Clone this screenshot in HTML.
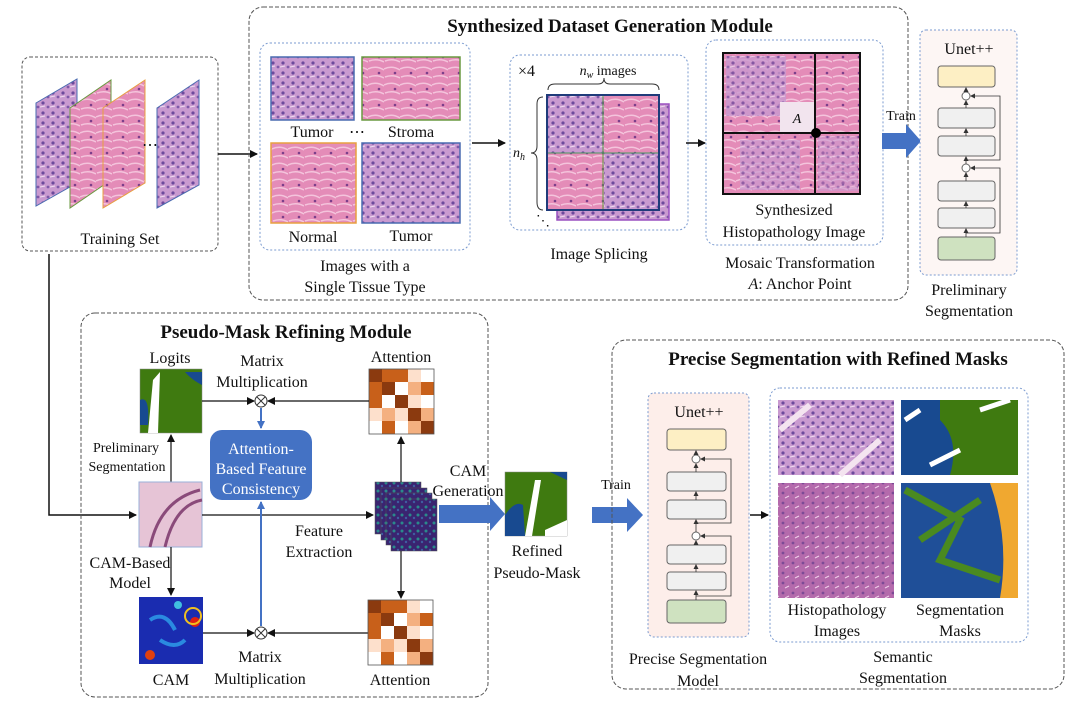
<!DOCTYPE html>
<html><head><meta charset="utf-8"><style>
html,body{margin:0;padding:0;background:#fff}
svg{display:block}
text{font-family:"Liberation Serif",serif;fill:#111}
.t{font-size:16px}
.s{font-size:14px}
.b{font-size:19px;font-weight:bold}
</style></head><body>
<svg width="1080" height="707" viewBox="0 0 1080 707" xmlns="http://www.w3.org/2000/svg">
<defs>
<pattern id="he" width="10" height="10" patternUnits="userSpaceOnUse">
<rect width="10" height="10" fill="#c99ad0"/>
<circle cx="3" cy="3" r="1.6" fill="#6d4a9c"/><circle cx="8" cy="7" r="1.4" fill="#7e58a8"/>
<path d="M0 7 L5 6" stroke="#efdcef" stroke-width="1"/>
</pattern>
<pattern id="st" width="16" height="16" patternUnits="userSpaceOnUse">
<rect width="16" height="16" fill="#e48cb8"/>
<path d="M0 5 Q8 1 16 6 M1 13 Q9 10 16 14" stroke="#f4c4dc" stroke-width="1.5" fill="none"/>
<circle cx="11" cy="9" r="1.3" fill="#7b3f8a"/>
</pattern>
<pattern id="big" width="10" height="10" patternUnits="userSpaceOnUse">
<rect width="10" height="10" fill="#b46aac"/><circle cx="3" cy="3" r="1.4" fill="#7c4a96"/><path d="M5 8 L9 6" stroke="#f0d0ea" stroke-width="1"/>
</pattern>
<pattern id="fm" width="8" height="8" patternUnits="userSpaceOnUse">
<rect width="8" height="8" fill="#3a2470"/><circle cx="2" cy="3" r="1.5" fill="#2a8a8c"/><circle cx="6" cy="6" r="1.2" fill="#3f5ea0"/>
</pattern>
<marker id="ar" markerWidth="8" markerHeight="8" refX="7" refY="4" orient="auto" markerUnits="userSpaceOnUse"><path d="M0 0 L8 4 L0 8 z" fill="#111"/></marker>
<marker id="arb" markerWidth="8" markerHeight="8" refX="7" refY="4" orient="auto" markerUnits="userSpaceOnUse"><path d="M0 0 L8 4 L0 8 z" fill="#4472c4"/></marker>
<marker id="as" markerWidth="5" markerHeight="5" refX="4" refY="2.5" orient="auto" markerUnits="userSpaceOnUse"><path d="M0 0 L5 2.5 L0 5 z" fill="#333"/></marker>
<g id="att">
<rect x="0" y="0" width="13" height="13" fill="#8b3a0f"/><rect x="13" y="0" width="13" height="13" fill="#c8601a"/><rect x="26" y="0" width="13" height="13" fill="#c8601a"/><rect x="39" y="0" width="13" height="13" fill="#fde0cc"/><rect x="52" y="0" width="13" height="13" fill="#fff"/>
<rect x="0" y="13" width="13" height="13" fill="#c8601a"/><rect x="13" y="13" width="13" height="13" fill="#8b3a0f"/><rect x="26" y="13" width="13" height="13" fill="#fff"/><rect x="39" y="13" width="13" height="13" fill="#f4b080"/><rect x="52" y="13" width="13" height="13" fill="#c8601a"/>
<rect x="0" y="26" width="13" height="13" fill="#c8601a"/><rect x="13" y="26" width="13" height="13" fill="#fff"/><rect x="26" y="26" width="13" height="13" fill="#8b3a0f"/><rect x="39" y="26" width="13" height="13" fill="#fde0cc"/><rect x="52" y="26" width="13" height="13" fill="#fff"/>
<rect x="0" y="39" width="13" height="13" fill="#fde0cc"/><rect x="13" y="39" width="13" height="13" fill="#f4b080"/><rect x="26" y="39" width="13" height="13" fill="#fde0cc"/><rect x="39" y="39" width="13" height="13" fill="#8b3a0f"/><rect x="52" y="39" width="13" height="13" fill="#f4b080"/>
<rect x="0" y="52" width="13" height="13" fill="#fff"/><rect x="13" y="52" width="13" height="13" fill="#c8601a"/><rect x="26" y="52" width="13" height="13" fill="#fff"/><rect x="39" y="52" width="13" height="13" fill="#f4b080"/><rect x="52" y="52" width="13" height="13" fill="#8b3a0f"/>
<rect x="0" y="0" width="65" height="65" fill="none" stroke="#555" stroke-width="0.8"/>
</g>
</defs>

<!-- Training set -->
<rect x="22" y="57" width="196" height="194" rx="8" fill="none" stroke="#555" stroke-dasharray="3,2"/>
<polygon points="36,103 77,79 77,183 36,206" fill="url(#he)" stroke="#4a6bb0"/>
<polygon points="70,108 111,80 111,180 70,208" fill="url(#st)" stroke="#6a9a40"/>
<polygon points="103,108 145,80 145,183 103,208" fill="url(#st)" stroke="#e8a040"/>
<text x="142" y="150" class="t">⋯</text>
<polygon points="157,108 199,80 199,185 157,208" fill="url(#he)" stroke="#4a6bb0"/>
<text x="120" y="244" class="t" text-anchor="middle">Training Set</text>
<line x1="218" y1="154" x2="257" y2="154" stroke="#111" stroke-width="1.5" marker-end="url(#ar)"/>
<polyline points="49,254 49,515 136,515" fill="none" stroke="#111" stroke-width="1.5" marker-end="url(#ar)"/>

<!-- Synth module -->
<rect x="249" y="7" width="659" height="293" rx="14" fill="none" stroke="#555" stroke-dasharray="4,2"/>
<text x="610" y="32" class="b" text-anchor="middle">Synthesized Dataset Generation Module</text>
<rect x="260" y="43" width="210" height="207" rx="10" fill="none" stroke="#7b9bd0" stroke-dasharray="2,2"/>
<rect x="271" y="57" width="83" height="63" fill="url(#he)" stroke="#4a6bb0" stroke-width="1.5"/>
<rect x="362" y="57" width="98" height="63" fill="url(#st)" stroke="#6a9a40" stroke-width="1.5"/>
<rect x="271" y="143" width="85" height="80" fill="url(#st)" stroke="#e8a040" stroke-width="1.5"/>
<rect x="362" y="143" width="98" height="80" fill="url(#he)" stroke="#4a6bb0" stroke-width="1.5"/>
<text x="312" y="137" class="t" text-anchor="middle">Tumor</text>
<text x="357" y="137" class="t" text-anchor="middle">⋯</text>
<text x="411" y="137" class="t" text-anchor="middle">Stroma</text>
<text x="313" y="242" class="t" text-anchor="middle">Normal</text>
<text x="411" y="241" class="t" text-anchor="middle">Tumor</text>
<text x="365" y="271" class="t" text-anchor="middle">Images with a</text>
<text x="365" y="292" class="t" text-anchor="middle">Single Tissue Type</text>
<line x1="472" y1="143" x2="505" y2="143" stroke="#111" stroke-width="1.5" marker-end="url(#ar)"/>

<rect x="510" y="55" width="178" height="175" rx="10" fill="none" stroke="#7b9bd0" stroke-dasharray="2,2"/>
<text x="518" y="76" class="t">×4</text>
<text x="608" y="75" class="s" text-anchor="middle"><tspan font-style="italic">n</tspan><tspan font-size="10" font-style="italic" dy="3">w</tspan><tspan dy="-3"> images</tspan></text>
<path d="M548 90 Q548 84 555 84 L598 84 Q604 84 604 78 Q604 84 610 84 L652 84 Q659 84 659 90" fill="none" stroke="#333"/>
<path d="M543 97 Q537 97 537 104 L537 146 Q537 153 531 153 Q537 153 537 160 L537 202 Q537 210 543 210" fill="none" stroke="#333"/>
<text x="513" y="157" class="s" font-style="italic">n<tspan font-size="10" dy="3">h</tspan></text>
<text x="536" y="225" class="s">⋱</text>
<rect x="557" y="104" width="112" height="116" fill="url(#he)" stroke="#9a50c0" stroke-width="1.5"/>
<rect x="547" y="95" width="112" height="115" fill="url(#he)" stroke="#1f3b7a" stroke-width="2"/>
<rect x="604" y="95" width="55" height="58" fill="url(#st)"/>
<rect x="548" y="153" width="56" height="56" fill="url(#st)"/>
<line x1="603" y1="95" x2="603" y2="210" stroke="#5a9a40" stroke-width="1"/>
<line x1="547" y1="153" x2="659" y2="153" stroke="#4a9a60" stroke-width="1"/>
<rect x="547" y="95" width="112" height="115" fill="none" stroke="#1f3b7a" stroke-width="2"/>
<text x="599" y="259" class="t" text-anchor="middle">Image Splicing</text>
<line x1="686" y1="143" x2="705" y2="143" stroke="#111" stroke-width="1.5" marker-end="url(#ar)"/>

<rect x="706" y="40" width="177" height="205" rx="10" fill="none" stroke="#7b9bd0" stroke-dasharray="2,2"/>
<rect x="723" y="53" width="137" height="141" fill="url(#st)" stroke="#111" stroke-width="2"/>
<rect x="726" y="56" width="60" height="60" fill="url(#he)" opacity="0.8"/>
<rect x="740" y="140" width="60" height="50" fill="url(#he)" opacity="0.7"/>
<rect x="818" y="136" width="40" height="55" fill="url(#he)" opacity="0.6"/>
<rect x="780" y="102" width="35" height="30" fill="#f2e4ee"/>
<line x1="815" y1="53" x2="815" y2="194" stroke="#111" stroke-width="2"/>
<line x1="723" y1="133" x2="860" y2="133" stroke="#111" stroke-width="2"/>
<circle cx="816" cy="133" r="5" fill="#000"/>
<text x="797" y="123" class="s" font-style="italic" text-anchor="middle">A</text>
<text x="794" y="215" class="t" text-anchor="middle">Synthesized</text>
<text x="794" y="237" class="t" text-anchor="middle">Histopathology Image</text>
<text x="800" y="268" class="t" text-anchor="middle">Mosaic Transformation</text>
<text x="800" y="289" class="t" text-anchor="middle"><tspan font-style="italic">A</tspan>: Anchor Point</text>

<text x="901" y="120" class="s" text-anchor="middle">Train</text>
<polygon points="882,133 906,133 906,124 921,141 906,158 906,149 882,149" fill="#4472c4"/>

<rect x="920" y="30" width="97" height="245" rx="6" fill="#fdf6f4" stroke="#7b9bd0" stroke-dasharray="2,2"/>
<text x="969" y="54" class="t" text-anchor="middle">Unet++</text>
<g stroke="#666" stroke-width="1">
<rect x="938" y="66" width="57" height="21" rx="3" fill="#fdefc4"/>
<rect x="938" y="108" width="57" height="20" rx="3" fill="#f0f0f0"/>
<rect x="938" y="136" width="57" height="20" rx="3" fill="#f0f0f0"/>
<rect x="938" y="181" width="57" height="20" rx="3" fill="#f0f0f0"/>
<rect x="938" y="208" width="57" height="20" rx="3" fill="#f0f0f0"/>
<rect x="938" y="237" width="57" height="23" rx="3" fill="#cfe2c0"/>
<circle cx="966" cy="96" r="4" fill="#fff"/><circle cx="966" cy="168" r="4" fill="#fff"/>
</g>
<g stroke="#333" stroke-width="0.8" fill="none">
<line x1="966" y1="108" x2="966" y2="101" marker-end="url(#as)"/><line x1="966" y1="92" x2="966" y2="88" marker-end="url(#as)"/>
<line x1="966" y1="136" x2="966" y2="129" marker-end="url(#as)"/><line x1="966" y1="164" x2="966" y2="157" marker-end="url(#as)"/>
<line x1="966" y1="181" x2="966" y2="173" marker-end="url(#as)"/><line x1="966" y1="208" x2="966" y2="202" marker-end="url(#as)"/>
<line x1="966" y1="237" x2="966" y2="229" marker-end="url(#as)"/>
<polyline points="966,160 1000,160 1000,96 971,96" marker-end="url(#as)"/>
<polyline points="966,233 1000,233 1000,168 971,168" marker-end="url(#as)"/>
</g>
<text x="969" y="295" class="t" text-anchor="middle">Preliminary</text>
<text x="969" y="316" class="t" text-anchor="middle">Segmentation</text>

<!-- Pseudo mask module -->
<rect x="81" y="313" width="407" height="384" rx="14" fill="none" stroke="#555" stroke-dasharray="4,2"/>
<text x="286" y="338" class="b" text-anchor="middle">Pseudo-Mask Refining Module</text>
<text x="170" y="363" class="t" text-anchor="middle">Logits</text>
<rect x="140" y="369" width="62" height="64" fill="#3f7a10" stroke="#888" stroke-width="0.5"/>
<path d="M153 380 L160 372 L158 433 L148 433 Z" fill="#fff"/><path d="M140 400 Q150 395 148 425 L140 425 Z" fill="#184a90"/>
<path d="M185 372 L202 372 L202 385 Q192 380 185 372 Z" fill="#184a90"/>
<text x="262" y="366" class="t" text-anchor="middle">Matrix</text>
<text x="262" y="387" class="t" text-anchor="middle">Multiplication</text>
<text x="401" y="362" class="t" text-anchor="middle">Attention</text>
<use href="#att" x="369" y="369"/>
<circle cx="261" cy="401" r="6" fill="#fff" stroke="#333"/>
<path d="M257 397 L265 405 M265 397 L257 405" stroke="#333"/>
<line x1="202" y1="401" x2="254" y2="401" stroke="#111" stroke-width="1.2" marker-end="url(#ar)"/>
<line x1="369" y1="401" x2="268" y2="401" stroke="#111" stroke-width="1.2" marker-end="url(#ar)"/>
<line x1="261" y1="408" x2="261" y2="428" stroke="#4472c4" stroke-width="2" marker-end="url(#arb)"/>
<rect x="210" y="430" width="102" height="70" rx="12" fill="#4472c4"/>
<text x="261" y="454" class="t" text-anchor="middle" style="fill:#fff">Attention-</text>
<text x="261" y="474" class="t" text-anchor="middle" style="fill:#fff">Based Feature</text>
<text x="261" y="494" class="t" text-anchor="middle" style="fill:#fff">Consistency</text>
<text x="126" y="452" class="s" text-anchor="middle">Preliminary</text>
<text x="127" y="471" class="s" text-anchor="middle">Segmentation</text>
<line x1="171" y1="482" x2="171" y2="435" stroke="#111" stroke-width="1.2" marker-end="url(#ar)"/>
<rect x="139" y="482" width="63" height="65" fill="#e6c4d6" stroke="#9ab0d8"/>
<path d="M150 547 Q160 500 200 490 M165 547 Q175 505 202 500" stroke="#8a4a7a" stroke-width="3" fill="none"/>
<line x1="202" y1="515" x2="373" y2="515" stroke="#111" stroke-width="1.2" marker-end="url(#ar)"/>
<text x="319" y="536" class="t" text-anchor="middle">Feature</text>
<text x="319" y="557" class="t" text-anchor="middle">Extraction</text>
<text x="130" y="568" class="t" text-anchor="middle">CAM-Based</text>
<text x="130" y="588" class="t" text-anchor="middle">Model</text>
<line x1="171" y1="547" x2="171" y2="595" stroke="#111" stroke-width="1.2" marker-end="url(#ar)"/>
<rect x="139" y="597" width="64" height="67" fill="#1a2cb0"/>
<circle cx="195" cy="622" r="5" fill="#e02010"/><circle cx="193" cy="616" r="8" fill="none" stroke="#f0c020" stroke-width="2"/>
<circle cx="150" cy="655" r="5" fill="#e04010"/><circle cx="178" cy="605" r="4" fill="#40c0e0"/>
<path d="M150 620 Q165 610 175 630 M160 640 Q175 650 185 640" stroke="#2a8ae0" stroke-width="4" fill="none"/>
<text x="171" y="685" class="t" text-anchor="middle">CAM</text>
<circle cx="261" cy="633" r="6" fill="#fff" stroke="#333"/>
<path d="M257 629 L265 637 M265 629 L257 637" stroke="#333"/>
<line x1="203" y1="633" x2="254" y2="633" stroke="#111" stroke-width="1.2" marker-end="url(#ar)"/>
<line x1="368" y1="633" x2="268" y2="633" stroke="#111" stroke-width="1.2" marker-end="url(#ar)"/>
<line x1="261" y1="626" x2="261" y2="502" stroke="#4472c4" stroke-width="2" marker-end="url(#arb)"/>
<text x="260" y="662" class="t" text-anchor="middle">Matrix</text>
<text x="260" y="684" class="t" text-anchor="middle">Multiplication</text>
<use href="#att" x="368" y="600"/>
<text x="400" y="685" class="t" text-anchor="middle">Attention</text>
<rect x="375" y="482" width="46" height="52" fill="url(#fm)" stroke="#555" stroke-width="0.5"/>
<rect x="381" y="488" width="46" height="52" fill="url(#fm)" stroke="#555" stroke-width="0.5"/>
<rect x="386" y="493" width="46" height="52" fill="url(#fm)" stroke="#555" stroke-width="0.5"/>
<rect x="391" y="499" width="46" height="52" fill="url(#fm)" stroke="#555" stroke-width="0.5"/>
<line x1="401" y1="482" x2="401" y2="437" stroke="#111" stroke-width="1.2" marker-end="url(#ar)"/>
<line x1="401" y1="551" x2="401" y2="598" stroke="#111" stroke-width="1.2" marker-end="url(#ar)"/>
<text x="468" y="476" class="t" text-anchor="middle">CAM</text>
<text x="468" y="496" class="t" text-anchor="middle">Generation</text>
<polygon points="439,505 490,505 490,497 505,514 490,531 490,523 439,523" fill="#4472c4"/>
<rect x="505" y="472" width="62" height="64" fill="#3f7a10" stroke="#888" stroke-width="0.5"/>
<path d="M525 536 L535 480 L541 480 L532 536 Z" fill="#fff"/><path d="M505 515 Q515 500 523 505 L525 536 L505 536 Z" fill="#184a90"/>
<path d="M550 472 L567 472 L567 480 Z" fill="#184a90"/><path d="M545 530 L567 520 L567 536 L545 536 Z" fill="#fff"/>
<text x="537" y="556" class="t" text-anchor="middle">Refined</text>
<text x="537" y="578" class="t" text-anchor="middle">Pseudo-Mask</text>
<text x="616" y="489" class="s" text-anchor="middle">Train</text>
<polygon points="592,507 627,507 627,498 643,515 627,532 627,523 592,523" fill="#4472c4"/>

<!-- Precise segmentation -->
<rect x="612" y="340" width="452" height="349" rx="14" fill="none" stroke="#555" stroke-dasharray="4,2"/>
<text x="838" y="365" class="b" text-anchor="middle">Precise Segmentation with Refined Masks</text>
<rect x="648" y="393" width="101" height="244" rx="6" fill="#fdeeea" stroke="#7b9bd0" stroke-dasharray="2,2"/>
<text x="699" y="417" class="t" text-anchor="middle">Unet++</text>
<g stroke="#666" stroke-width="1">
<rect x="667" y="429" width="59" height="21" rx="3" fill="#fdefc4"/>
<rect x="667" y="472" width="59" height="19" rx="3" fill="#f0f0f0"/>
<rect x="667" y="500" width="59" height="19" rx="3" fill="#f0f0f0"/>
<rect x="667" y="545" width="59" height="19" rx="3" fill="#f0f0f0"/>
<rect x="667" y="572" width="59" height="18" rx="3" fill="#f0f0f0"/>
<rect x="667" y="600" width="59" height="23" rx="3" fill="#cfe2c0"/>
<circle cx="696" cy="459" r="4" fill="#fff"/><circle cx="696" cy="536" r="4" fill="#fff"/>
</g>
<g stroke="#333" stroke-width="0.8" fill="none">
<line x1="696" y1="472" x2="696" y2="464" marker-end="url(#as)"/><line x1="696" y1="455" x2="696" y2="451" marker-end="url(#as)"/>
<line x1="696" y1="500" x2="696" y2="492" marker-end="url(#as)"/><line x1="696" y1="532" x2="696" y2="520" marker-end="url(#as)"/>
<line x1="696" y1="545" x2="696" y2="541" marker-end="url(#as)"/><line x1="696" y1="572" x2="696" y2="565" marker-end="url(#as)"/>
<line x1="696" y1="600" x2="696" y2="591" marker-end="url(#as)"/>
<polyline points="696,523 731,523 731,459 701,459" marker-end="url(#as)"/>
<polyline points="696,596 731,596 731,536 701,536" marker-end="url(#as)"/>
</g>
<text x="698" y="664" class="t" text-anchor="middle">Precise Segmentation</text>
<text x="698" y="686" class="t" text-anchor="middle">Model</text>
<line x1="750" y1="515" x2="768" y2="515" stroke="#111" stroke-width="1.5" marker-end="url(#ar)"/>
<rect x="770" y="388" width="258" height="254" rx="10" fill="none" stroke="#7b9bd0" stroke-dasharray="2,2"/>
<rect x="778" y="400" width="116" height="75" fill="url(#he)"/>
<path d="M780 430 L810 405 M840 475 L880 440" stroke="#f4e4f0" stroke-width="6"/>
<rect x="901" y="400" width="117" height="75" fill="#184a90"/>
<path d="M940 400 L1018 400 L1018 475 L950 475 Q960 440 940 420 Z" fill="#3f7a10"/>
<path d="M905 420 L920 410 M930 465 L960 450 M980 410 L1010 400" stroke="#fff" stroke-width="5"/>
<rect x="778" y="483" width="116" height="115" fill="url(#big)"/>
<rect x="901" y="483" width="117" height="115" fill="#1f4f98"/>
<path d="M905 490 L960 520 L940 560 L1000 580 M920 540 L980 500" stroke="#4a8a20" stroke-width="7" fill="none"/>
<path d="M990 483 L1018 483 L1018 598 L1000 598 Q1010 540 990 483 Z" fill="#f0a830"/>
<text x="837" y="615" class="t" text-anchor="middle">Histopathology</text>
<text x="837" y="636" class="t" text-anchor="middle">Images</text>
<text x="960" y="615" class="t" text-anchor="middle">Segmentation</text>
<text x="960" y="636" class="t" text-anchor="middle">Masks</text>
<text x="903" y="662" class="t" text-anchor="middle">Semantic</text>
<text x="903" y="683" class="t" text-anchor="middle">Segmentation</text>
</svg>
</body></html>
